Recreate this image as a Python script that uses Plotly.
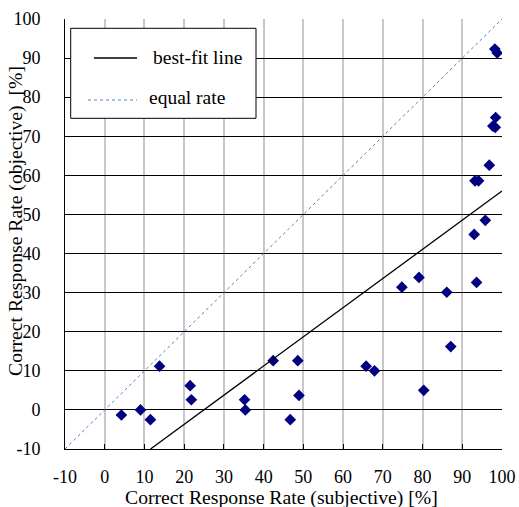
import numpy as np
import plotly.graph_objects as go

subjective = [4.2, 9.0, 11.5, 13.8, 21.5, 21.8, 35.2, 35.4, 42.4, 48.6, 48.9, 46.7,
              65.8, 67.9, 80.3, 87.1,
              96.8, 93.2, 94.1, 95.8, 93.0, 74.8, 79.1, 86.1, 93.6,
              98.2, 98.8, 98.4, 97.7, 98.3]
objective = [-1.3, 0.0, -2.5, 11.2, 6.2, 2.6, 2.6, 0.0, 12.6, 12.6, 3.7, -2.5,
             11.2, 10.0, 5.0, 16.2,
             62.6, 58.6, 58.6, 48.5, 44.9, 31.4, 33.9, 30.1, 32.6,
             92.3, 91.3, 74.8, 72.6, 72.3]

fit_slope = 0.746
fit_intercept = -18.6
axis_min, axis_max = -10, 100
ticks = list(range(-10, 101, 10))
tick_labels = [str(t) for t in ticks]
legend_labels = ["best-fit line", "equal rate"]
x_title = "Correct Response Rate (subjective) [%]"
y_title = "Correct Response Rate (objective)  [%]"

fit_x = np.array([(axis_min - fit_intercept) / fit_slope, axis_max])
fit_y = fit_slope * fit_x + fit_intercept

W, H = 519, 507
L, R, T, B = 65, 17, 19, 58
pw, ph = W - L - R, H - T - B


def px(x):
    return (x - L) / pw


def py(y):
    return (H - B - y) / ph


SERIF = "Liberation Serif"
fig = go.Figure()
fig.add_trace(go.Scatter(x=subjective, y=objective, mode="markers",
                         marker=dict(symbol="diamond", size=9, color="#000080",
                                     line=dict(width=0)),
                         showlegend=False))
fig.add_trace(go.Scatter(x=fit_x, y=fit_y, mode="lines", showlegend=False,
                         line=dict(color="black", width=1.3)))
fig.add_trace(go.Scatter(x=[axis_min, axis_max], y=[axis_min, axis_max], mode="lines",
                         showlegend=False,
                         line=dict(color="#4f81bd", width=1, dash="dot")))

shapes = [
    dict(type="rect", xref="paper", yref="paper", x0=px(70.7), x1=px(256), y0=py(118.3), y1=py(28.3),
         line=dict(color="black", width=1), fillcolor="white", layer="above"),
    dict(type="line", xref="paper", yref="paper", x0=px(94), x1=px(137), y0=py(58), y1=py(58),
         line=dict(color="black", width=1.3), layer="above"),
    dict(type="line", xref="paper", yref="paper", x0=px(88), x1=px(137), y0=py(100), y1=py(100),
         line=dict(color="#4f81bd", width=1, dash="dot"), layer="above"),
]
annotations = [
    dict(xref="paper", yref="paper", x=px(150.5), y=py(57.5), xanchor="left", yanchor="middle",
         text=legend_labels[0], showarrow=False, font=dict(family=SERIF, size=19.5, color="black")),
    dict(xref="paper", yref="paper", x=px(146.5), y=py(97.5), xanchor="left", yanchor="middle",
         text=legend_labels[1], showarrow=False, font=dict(family=SERIF, size=19.5, color="black")),
    dict(xref="paper", yref="paper", x=px(281.5), y=py(497.5), xanchor="center", yanchor="middle",
         text=x_title, showarrow=False, font=dict(family=SERIF, size=19.7, color="black")),
    dict(xref="paper", yref="paper", x=px(15), y=py(221), xanchor="center", yanchor="middle",
         text=y_title, textangle=-90, showarrow=False,
         font=dict(family=SERIF, size=19.7, color="black")),
]

fig.update_layout(
    width=W, height=H,
    margin=dict(l=L, r=R, t=T, b=B),
    paper_bgcolor="white", plot_bgcolor="white",
    font=dict(family=SERIF, size=18, color="black"),
    showlegend=False,
    shapes=shapes, annotations=annotations,
)
fig.update_xaxes(range=[axis_min, axis_max], tickvals=ticks, ticktext=tick_labels, showgrid=True,
                 gridcolor="#c8c8c8", gridwidth=2, zeroline=False,
                 showline=True, linecolor="black", linewidth=1,
                 ticks="inside", ticklen=5, tickcolor="black",
                 ticklabelstandoff=11, automargin=False,
                 tickfont=dict(family=SERIF, size=18, color="black"))
fig.update_yaxes(range=[axis_min, axis_max], tickvals=ticks, ticktext=tick_labels, showgrid=True,
                 gridcolor="black", gridwidth=1, zeroline=False,
                 showline=True, linecolor="black", linewidth=1,
                 ticks="inside", ticklen=5, tickcolor="black",
                 ticklabelstandoff=20, automargin=False,
                 tickfont=dict(family=SERIF, size=18, color="black"))

fig.write_html("out.html")
